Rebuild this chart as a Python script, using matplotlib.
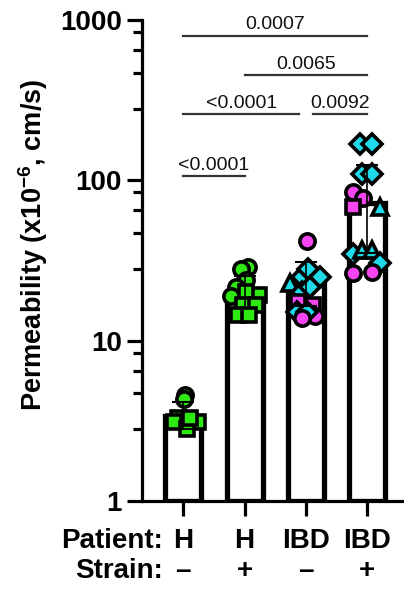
import numpy as np
import matplotlib
matplotlib.use("Agg")
import matplotlib.pyplot as plt
import matplotlib.transforms as mtransforms

plt.rcParams['font.family'] = ['Liberation Sans', 'DejaVu Sans']
plt.rcParams['font.weight'] = 'bold'
plt.rcParams['mathtext.fontset'] = 'custom'
plt.rcParams['mathtext.rm'] = 'Liberation Sans'
plt.rcParams['mathtext.bf'] = 'Liberation Sans:bold'

# groups
patient = ["H", "H", "IBD", "IBD"]
strain = ["\u2013", "+", "\u2013", "+"]
means = [3.4, 20.0, 22.5, 72.0]
sd_up = [0.75, 5.2, 8.5, 52.0]
sd_down = [0.6, 4.0, 6.0, 37.0]

# individual points per group (value, shape, colour key)
g1_vals = [4.6, 4.3, 3.3, 3.1, 3.1, 2.8, 3.3]
g1_shape = ["o", "o", "s", "s", "s", "s", "s"]
g1_col = ["g"] * 7

g2_vals = [28.6, 27.8, 24.0, 21.7, 19.1, 19.3, 20.0, 16.7, 16.7, 14.5, 14.5]
g2_shape = ["o", "o", "o", "o", "o", "s", "s", "s", "s", "s", "s"]
g2_col = ["g"] * 11

g3_vals = [41.6, 23.0, 24.8, 27.8, 24.8, 20.0, 21.7, 17.3, 16.7, 14.2, 15.0, 15.0, 13.9]
g3_shape = ["o", "^", "D", "D", "D", "D", "D", "s", "s", "o", "D", "D", "o"]
g3_col = ["m", "c", "c", "c", "c", "c", "c", "m", "m", "m", "c", "c", "m"]

g4_vals = [168, 168, 109, 109, 85, 78, 68, 68, 34.5, 37, 37, 30.6, 26.6, 27]
g4_shape = ["D", "D", "D", "D", "o", "o", "s", "^", "D", "^", "^", "D", "o", "o"]
g4_col = ["c", "c", "c", "c", "m", "m", "m", "c", "c", "c", "c", "c", "m", "m"]

# horizontal spread of points (pixels)
g1_dx = [1.7, 0.7, -5, -9, 15, 4, 7]
g2_dx = [3, -4, 1, -9, -14, 14, 1, -2, 11, -7, 4]
g3_dx = [1, -16, -4, 2, 14, -4, 4, -8, 7, 9, -9, 1, -4]
g4_dx = [-7, 5, -5, 5, -14, -4, -14, 13, -14, -5, 5, 13, -14, 5]

# comparisons
comparisons = [(0, 3), (1, 3), (0, 2), (2, 3), (0, 1)]
pvals = ["0.0007", "0.0065", "<0.0001", "0.0092", "<0.0001"]
bracket_y = [800, 455, 258, 258, 106]
bracket_trim = [(0, 0), (0, 0), (0, -0.11), (0.11, 0), (0, 0)]

colors = {"g": "#2EE812", "m": "#F545F0", "c": "#1ED9E8"}
msizes = {"o": 11.0, "s": 10.5, "D": 10.0, "^": 11.5}

fig = plt.figure(figsize=(4.04, 5.90), dpi=100)
ax = fig.add_axes([142 / 404, 89 / 590, 262 / 404, 481 / 590])
ax.set_yscale("log")
ax.set_ylim(1, 1000)
ax.set_xlim(-0.675, 3.6)
px = 61.2  # pixels per category unit

x = np.arange(4)
ax.bar(x, np.array(means) - 1, bottom=1, width=0.59, color="white",
       edgecolor="black", linewidth=3.8, zorder=2)

groups = [(g1_vals, g1_shape, g1_col, g1_dx), (g2_vals, g2_shape, g2_col, g2_dx),
          (g3_vals, g3_shape, g3_col, g3_dx), (g4_vals, g4_shape, g4_col, g4_dx)]
for i, (vals, shp, col, dx) in enumerate(groups):
    for v, s, c, d in zip(vals, shp, col, dx):
        ax.plot(i + d / px, v, marker=s, ms=msizes[s], mfc=colors[c], mec="black",
                mew=2.6, ls="none", zorder=3, clip_on=False)

ax.errorbar(x, means, yerr=[sd_down, sd_up], fmt="none", ecolor="black",
            elinewidth=1.2, capsize=7.8, capthick=1.5, zorder=4)

# significance brackets
for (a, b), p, yb, (ta, tb) in zip(comparisons, pvals, bracket_y, bracket_trim):
    ax.plot([a + ta, b + tb], [yb, yb], color="#333333", lw=1.6, zorder=5, clip_on=False)
    ax.annotate(p, ((a + ta + b + tb) / 2, yb), xytext=(0, 1.5), textcoords="offset points",
                ha="center", va="bottom", fontsize=14, fontweight="normal", color="#111111")

# axes styling
for side in ["top", "right"]:
    ax.spines[side].set_visible(False)
for side in ["left", "bottom"]:
    ax.spines[side].set_linewidth(2.3)

ax.set_yticks([1, 10, 100, 1000])
ax.set_yticklabels(["1", "10", "100", "1000"])
minor = [m * 10 ** k for k in range(3) for m in (2.8, 4.7, 6.5, 8.4)]
ax.set_yticks(minor, minor=True)
ax.yaxis.set_minor_formatter(matplotlib.ticker.NullFormatter())
ax.tick_params(axis="y", which="major", length=11, width=2.3, labelsize=20, pad=3.5)
ax.tick_params(axis="y", which="minor", length=6.5, width=2.3)

ax.set_xticks(x)
ax.set_xticklabels([""] * 4)
ax.tick_params(axis="x", length=11, width=2.3)

trans = mtransforms.blended_transform_factory(ax.transData, ax.transAxes)
for i in range(4):
    ax.text(i, -0.0977, patient[i], transform=trans, ha="center", va="baseline", fontsize=20)
    ax.text(i, -0.160, strain[i], transform=trans, ha="center", va="baseline", fontsize=20)
ax.text(0.080, -0.0977, "Patient:", transform=ax.transAxes, ha="right", va="baseline", fontsize=20)
ax.text(0.080, -0.160, "Strain:", transform=ax.transAxes, ha="right", va="baseline", fontsize=20)

fig.text(33 / 404, 1 - 245 / 590, r"Permeability (x10$^{\mathbf{-6}}$, cm/s)",
         rotation=90, ha="center", va="center", fontsize=19.5)

fig.savefig("out.png", dpi=100)
